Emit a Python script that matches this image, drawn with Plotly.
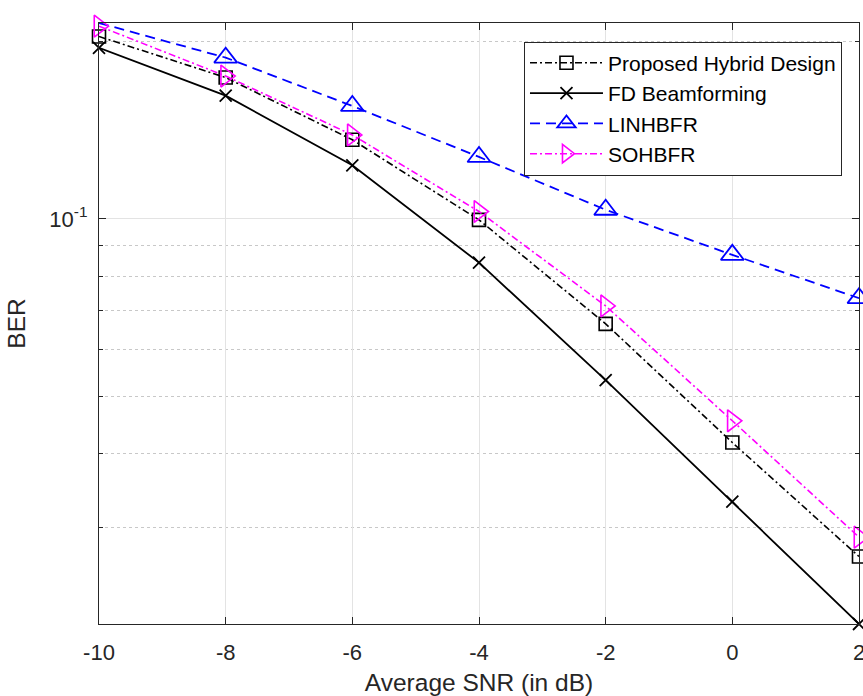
import numpy as np
import plotly.graph_objects as go

# SNR sweep (dB)
snr_db = [-10, -8, -6, -4, -2, 0, 2]

# Bit error rate for each scheme
ber_proposed = [0.2036, 0.1735, 0.1361, 0.0996, 0.0664, 0.0418, 0.0268]
ber_fd = [0.1948, 0.1617, 0.1232, 0.0843, 0.0533, 0.0332, 0.0206]
ber_linhbfr = [0.2146, 0.1875, 0.1553, 0.1273, 0.1036, 0.0869, 0.0734]
ber_sohbfr = [0.2120, 0.1745, 0.1387, 0.1029, 0.0712, 0.0455, 0.0289]

names = ["Proposed Hybrid Design", "FD Beamforming", "LINHBFR", "SOHBFR"]

x_ticks = [-10, -8, -6, -4, -2, 0, 2]
x_tick_text = ["-10", "-8", "-6", "-4", "-2", "0", "2"]
y_major = [0.1]
y_major_text = ["10<sup>-1</sup>"]
y_minor = [0.03, 0.04, 0.05, 0.06, 0.07, 0.08, 0.09, 0.2]

FONT = "Liberation Sans, Arial, Helvetica, sans-serif"
AX = "#262626"

fig = go.Figure()

fig.add_trace(go.Scatter(
    x=snr_db, y=ber_proposed, name=names[0], mode="lines+markers",
    line=dict(color="black", width=1.6, dash="7px,3px,2px,3px"),
    marker=dict(symbol="square-open", size=13, color="black", line=dict(width=1.6)),
    cliponaxis=False,
))
fig.add_trace(go.Scatter(
    x=snr_db, y=ber_fd, name=names[1], mode="lines+markers",
    line=dict(color="black", width=1.8),
    marker=dict(symbol="x-thin-open", size=12, color="black", line=dict(width=1.8, color="black")),
    cliponaxis=False,
))
fig.add_trace(go.Scatter(
    x=snr_db, y=ber_linhbfr, name=names[2], mode="lines+markers",
    line=dict(color="#0000ff", width=1.8, dash="10px,6px"),
    marker=dict(symbol="triangle-up-open", size=20, color="#0000ff", line=dict(width=1.8)),
    cliponaxis=False,
))
fig.add_trace(go.Scatter(
    x=snr_db, y=ber_sohbfr, name=names[3], mode="lines+markers",
    line=dict(color="#ff00ff", width=1.6, dash="7px,3px,2px,3px"),
    marker=dict(symbol="triangle-right-open", size=19, color="#ff00ff", line=dict(width=1.6)),
    cliponaxis=False,
))

y_lo = np.log10(min(ber_fd))
y_hi = np.log10(max(ber_linhbfr))

fig.update_layout(
    width=863, height=696,
    margin=dict(l=99, r=4, t=23, b=72, autoexpand=False),
    paper_bgcolor="white", plot_bgcolor="white",
    font=dict(family=FONT, color=AX),
    showlegend=True,
    legend=dict(
        x=0.9776, y=0.969, xanchor="right", yanchor="top",
        bgcolor="white", bordercolor=AX, borderwidth=1,
        font=dict(family=FONT, size=21, color="black"),
        itemwidth=73, tracegroupgap=0,
    ),
    xaxis=dict(
        range=[-10, 2], tickvals=x_ticks, ticktext=x_tick_text,
        tickfont=dict(size=22, color=AX),
        ticks="inside", ticklen=7, tickcolor=AX,
        showline=True, linecolor=AX, linewidth=1.3, mirror="ticks",
        showgrid=True, gridcolor="#e3e3e3", gridwidth=1,
        zeroline=False, automargin=False,
        ticklabeloverflow="allow",
        title=dict(text="Average SNR (in dB)", font=dict(size=24.5, color=AX), standoff=14),
        ticklabelstandoff=8,
    ),
    yaxis=dict(
        type="log", range=[y_lo, y_hi],
        tickvals=y_major, ticktext=y_major_text,
        tickfont=dict(size=22, color=AX),
        ticks="inside", ticklen=7, tickcolor=AX,
        showline=True, linecolor=AX, linewidth=1.3, mirror="ticks",
        showgrid=True, gridcolor="#e3e3e3", gridwidth=1,
        zeroline=False, automargin=False,
        minor=dict(tickvals=y_minor, ticks="inside", ticklen=4, tickcolor=AX,
                   showgrid=True, gridcolor="#c8c8c8", griddash="dot", gridwidth=1),
        title=dict(text="BER", font=dict(size=24.5, color=AX), standoff=16),
        ticklabelstandoff=6,
    ),
)

fig.write_html("out.html")
